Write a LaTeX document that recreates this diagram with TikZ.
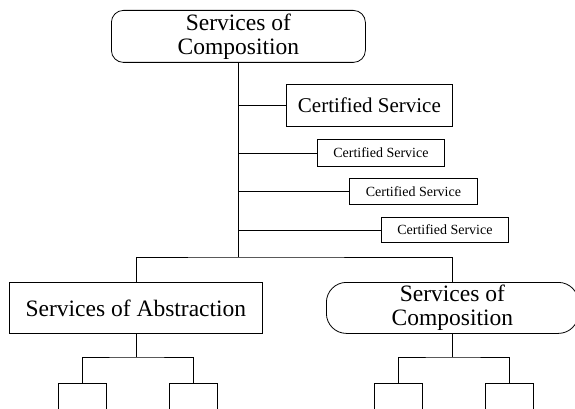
\documentclass[tikz,border=0pt]{standalone}
\usepackage{fontspec}
\setmainfont{Liberation Serif}
\begin{document}
\begin{tikzpicture}[x=1pt,y=-1pt,
  box/.style={draw=black, line width=0.8pt, inner sep=0pt, anchor=north west, align=center},
  big/.style={font=\fontsize{23.5}{24}\selectfont},
  mid/.style={font=\fontsize{21}{24}\selectfont},
  small/.style={font=\fontsize{14}{16}\selectfont},
  conn/.style={draw=black, line width=0.8pt}]
\useasboundingbox (0,0) rectangle (575,409);
\clip (0,0) rectangle (575,409);
% boxes
\node[box, big, rounded corners=12pt, minimum width=254pt, minimum height=52pt] (top) at (111,10) {Services of\\Composition};
\node[box, mid, minimum width=166pt, minimum height=42pt] (c1) at (286,84) {Certified Service};
\node[box, small, minimum width=127pt, minimum height=27pt] (c2) at (317,139) {Certified Service};
\node[box, small, minimum width=128pt, minimum height=26pt] (c3) at (349,178) {Certified Service};
\node[box, small, minimum width=127pt, minimum height=25pt] (c4) at (381,217) {Certified Service};
\node[box, big, minimum width=253pt, minimum height=51pt] (abs) at (9,282) {Services of Abstraction};
\node[box, big, rounded corners=20pt, minimum width=252pt, minimum height=51pt] (comp) at (326,282) {Services of\\Composition};
\node[box, minimum width=48pt, minimum height=30pt] (s1) at (58,383) {};
\node[box, minimum width=48pt, minimum height=30pt] (s2) at (169,383) {};
\node[box, minimum width=48pt, minimum height=30pt] (s3) at (374,383) {};
\node[box, minimum width=48pt, minimum height=30pt] (s4) at (485,383) {};
% junctions
\coordinate (j1) at (top.south |- 0,257);
\coordinate (j2) at (abs.south |- 0,357);
\coordinate (j3) at (comp.south |- 0,357);
% connectors
\draw[conn] (top.south) -- (j1);
\draw[conn] (c1.west) -- (c1.west -| top.south);
\draw[conn] (c2.west) -- (c2.west -| top.south);
\draw[conn] (c3.west) -- (c3.west -| top.south);
\draw[conn] (c4.west) -- (c4.west -| top.south);
\draw[conn] (abs.north) |- (j1) -| (comp.north);
\draw[conn] (abs.south) -- (j2);
\draw[conn] (s1.north) |- (j2) -| (s2.north);
\draw[conn] (comp.south) -- (j3);
\draw[conn] (s3.north) |- (j3) -| (s4.north);
\end{tikzpicture}
\end{document}
